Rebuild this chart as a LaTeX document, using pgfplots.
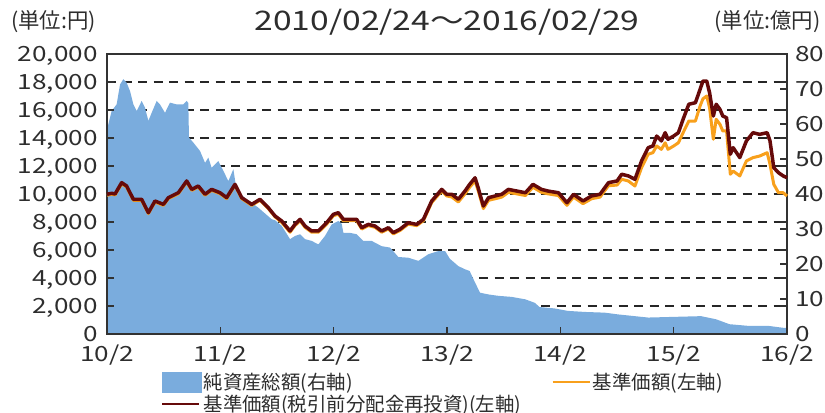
\documentclass[border=0pt]{standalone}
\usepackage{pgfplots}
\usepackage{pgfplotstable}
\pgfplotsset{compat=1.18}
\usepackage{fontspec}
\setmainfont{Noto Sans CJK JP}
\newfontfamily\numfont[FakeStretch=1.25]{Noto Sans CJK JP}
\definecolor{blueC}{RGB}{122,172,221}
\definecolor{orangeC}{RGB}{248,160,28}
\definecolor{redC}{RGB}{102,10,10}
\definecolor{textC}{RGB}{45,45,45}
\definecolor{frameC}{RGB}{50,50,50}

\pgfplotstableread{
m red orange
0.0 9980 9910
0.5 10050 9980
0.85 10000 9930
1.55 10810 10730
2.08 10570 10500
2.79 9620 9550
3.67 9620 9550
4.38 8665 8600
5.08 9500 9430
5.97 9260 9190
6.5 9740 9670
7.55 10090 10020
8.44 10930 10850
8.97 10330 10260
9.67 10570 10500
10.38 9980 9910
11.08 10330 10260
11.97 10090 10020
12.67 9740 9670
13.55 10690 10620
14.26 9740 9670
15.32 9260 9190
16.2 9620 9550
17.08 9020 8960
17.79 8430 8370
18.5 8070 7970
19.38 7360 7270
19.9 7830 7740
20.44 8190 8090
20.97 7710 7620
21.67 7360 7270
22.38 7360 7270
23.26 7950 7850
23.97 8550 8450
24.5 8665 8560
25.03 8190 8090
25.73 8190 8090
26.44 8190 8090
26.97 7590 7500
27.67 7830 7740
28.38 7710 7620
29.08 7360 7270
29.79 7590 7500
30.32 7240 7150
31.02 7480 7390
31.9 7950 7850
32.79 7830 7740
33.5 8190 8090
34.38 9500 9390
35.44 10330 10210
35.97 9980 9860
36.5 9980 9790
37.2 9620 9430
37.9 10210 10010
38.4 10690 10480
38.97 11160 10940
39.3 10450 10240
39.85 9140 8960
40.4 9740 9550
41.1 9860 9660
41.8 9980 9780
42.5 10330 10120
43.4 10210 10010
44.3 10090 9890
45.1 10690 10480
46.0 10330 10120
46.7 10210 10010
47.8 10090 9890
48.7 9380 9190
49.4 9980 9780
50.4 9500 9310
51.3 9860 9660
52.2 9980 9780
53.1 10810 10590
54.0 10930 10640
54.5 11410 11050
55.2 11290 10930
55.9 11050 10570
56.6 12360 11880
57.3 13310 12840
57.8 13430 12950
58.2 14140 13430
58.7 13790 13190
59.1 14380 13660
59.4 13910 13190
60.0 14140 13430
60.5 14380 13660
61.0 15340 14380
61.6 16410 15210
62.3 16520 15210
62.8 17480 16290
63.1 18070 16800
63.5 18070 17000
63.8 17240 16170
64.2 15570 13910
64.5 16410 15340
64.9 16050 14980
65.2 15570 14500
65.6 15450 14500
66.0 12840 11410
66.3 13310 11640
67.0 12600 11290
67.7 13790 12360
68.4 14380 12600
69.1 14260 12710
69.9 14380 12950
70.2 13790 12120
70.6 11880 10690
71.1 11520 10090
71.6 11290 10090
72.0 11160 9860
}\pricetable

\pgfplotstableread{
m v
0.0 58.9
0.14 59.9
0.49 63.7
1.02 65.6
1.38 71.3
1.73 72.8
2.08 71.8
2.44 69.4
2.79 65.6
3.14 63.7
3.67 66.6
4.02 64.7
4.38 60.9
4.73 63.2
5.26 66.6
5.61 65.6
6.14 63.2
6.67 66.1
7.38 65.6
8.08 65.6
8.44 66.6
8.61 66.0
8.68 56.1
9.14 54.7
9.85 52.3
10.38 48.9
10.73 50.4
11.08 47.5
11.79 49.4
12.32 46.6
12.85 43.7
13.38 47.1
13.73 40.9
14.61 38.9
16.02 36.1
17.43 32.8
17.79 32.5
18.5 30.9
19.38 27.1
19.9 28.0
20.44 28.5
20.97 27.1
21.67 26.6
22.38 25.6
23.08 28.0
23.79 31.3
24.5 32.3
24.85 31.5
25.03 28.9
25.73 28.9
26.44 28.5
27.14 26.6
28.02 26.6
29.08 25.1
29.97 24.7
30.85 22.0
31.9 21.8
32.97 20.9
34.03 22.8
35.09 23.7
35.8 23.7
36.3 21.5
37.2 19.4
37.9 18.5
38.4 18.0
38.97 14.7
39.5 11.8
40.4 11.3
41.45 10.9
42.85 10.6
44.3 9.9
45.3 8.9
45.8 7.7
47.4 7.3
48.8 6.6
50.6 6.3
52.7 6.1
54.1 5.6
57.3 4.7
62.9 5.1
64.5 4.2
65.9 2.8
68.0 2.3
70.1 2.3
71.5 1.8
72.0 1.7
}\assettable

\pgfplotsset{
  base/.style={width=680bp, height=280bp, scale only axis, xmin=0, xmax=72,
    at={(0,0)}, anchor=south west, scaled y ticks=false, scaled x ticks=false},
  numlab/.style={font=\numfont\fontsize{21}{21}\selectfont, text=textC,
    inner sep=0pt, text height=15bp, text depth=0bp},
}

\begin{document}
\begin{tikzpicture}
% grid layer
\begin{axis}[base, ymin=0, ymax=20000, ytick={2000,4000,...,18000}, xtick=\empty,
  yticklabels={}, ymajorgrids,
  major grid style={black!85, line width=1.1bp, dash pattern=on 9bp off 6.5bp},
  axis line style={draw=none}, major tick length=0pt]
\end{axis}
% right axis with net assets area
\begin{axis}[base, ymin=0, ymax=80, axis y line*=right, axis x line=none,
  ytick={0,10,...,80}, tick align=inside, major tick length=7bp,
  tick style={frameC, line width=1.1bp},
  yticklabel style={numlab, anchor=west, xshift=8bp},
  /pgf/number format/assume math mode=true]
\addplot[fill=blueC, draw=none] table[x=m, y=v] {\assettable} \closedcycle;
\end{axis}
% left axis with prices
\begin{axis}[base, ymin=0, ymax=20000,
  ytick={0,2000,...,20000}, ytick pos=both, yticklabel pos=left,
  xtick={0,12,...,72}, xtick pos=bottom,
  xticklabels={10/2,11/2,12/2,13/2,14/2,15/2,16/2},
  tick align=inside, major tick length=7bp,
  tick style={frameC, line width=1.1bp},
  axis line style={draw=frameC, line width=1.3bp},
  yticklabel style={numlab, anchor=east, xshift=-9bp},
  xticklabel style={numlab, anchor=north, yshift=-12bp},
  /pgf/number format/.cd, 1000 sep={,}, assume math mode=true, /pgfplots/.cd,
  legend columns=2,
  legend cell align=left,
  legend style={draw=none, fill=none, at={(0.075,-0.125)}, anchor=north west,
    font=\fontsize{19.5}{19.5}\selectfont, text=textC,
    row sep=0bp,
    nodes={inner sep=2bp}},
  /tikz/every even column/.append style={column sep=28bp},
  clip=false,
]
\addlegendimage{legend image code/.code={\fill[blueC] (0bp,-10bp) rectangle (39bp,10bp);}}
\addlegendentry{純資産総額(右軸)}
\addplot[orangeC, line width=3bp, line join=round,
  legend image code/.code={\draw[orangeC, line width=2.6bp] (0bp,0bp) -- (37bp,0bp);}]
  table[x=m, y=orange] {\pricetable};
\addlegendentry{基準価額(左軸)}
\addplot[redC, line width=3.5bp, line join=round,
  legend image code/.code={\draw[redC, line width=2.6bp] (0bp,0bp) -- (37bp,0bp);}]
  table[x=m, y=red] {\pricetable};
\addlegendentry{基準価額(税引前分配金再投資)(左軸)}
\node[text=textC, font=\numfont\fontsize{27}{27}\selectfont] at (rel axis cs:0.5,1) [yshift=32bp] {2010/02/24～2016/02/29};
\node[text=textC, font=\fontsize{21.5}{21.5}\selectfont] at (rel axis cs:0,1) [xshift=-53.5bp, yshift=32bp] {(単位:円)};
\node[text=textC, font=\fontsize{21.5}{21.5}\selectfont] at (rel axis cs:1,1) [xshift=-19.5bp, yshift=32bp] {(単位:億円)};
\end{axis}
\pgfresetboundingbox
\path (-107bp,-79bp) rectangle (718bp,334bp);
\end{tikzpicture}
\end{document}
